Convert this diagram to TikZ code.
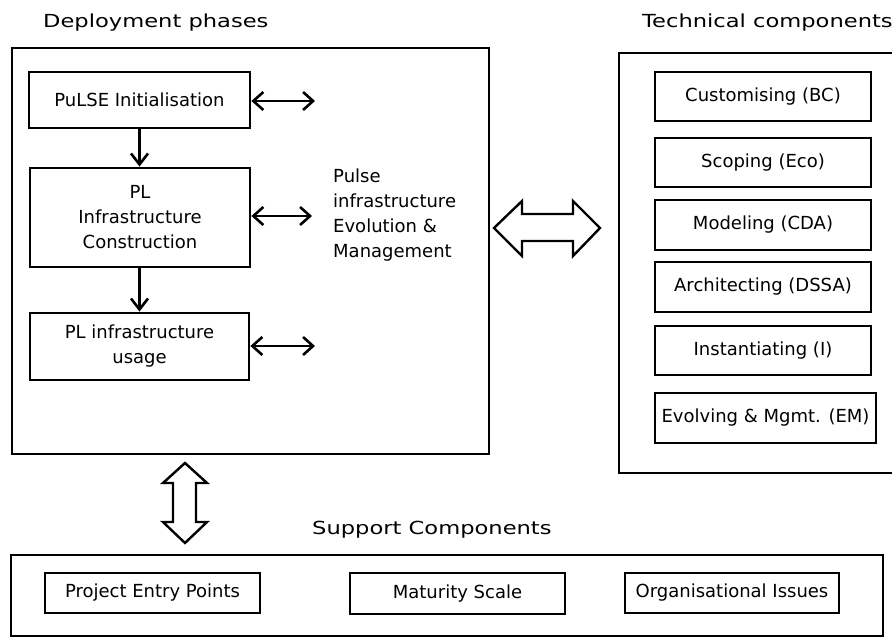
\documentclass[tikz,border=0pt]{standalone}
\usepackage{fontspec}
\setmainfont{DejaVu Sans}
\usetikzlibrary{arrows.meta}
\begin{document}
\begin{tikzpicture}[x=1pt,y=-1pt,
  box/.style={draw, line width=2.8pt, rectangle, inner sep=0pt, align=center,
    font=\fontsize{18pt}{25pt}\selectfont},
  frame/.style={draw, line width=2.8pt, rectangle, inner sep=0pt},
  title/.style={anchor=base west, inner sep=0pt, font=\fontsize{18pt}{25pt}\selectfont},
  link/.style={line width=2.6pt, {Straight Barb[length=10pt,width=18pt]}-{Straight Barb[length=10pt,width=18pt]}},
  flow/.style={line width=2.6pt, -{Straight Barb[length=11pt,width=17pt]}},
  bigarrow/.style={draw, line width=2.4pt, fill=white, line join=miter}
]
\useasboundingbox (0,0) rectangle (892,637);

% titles
\node[title] (tdep) at (43,27.5) {\scalebox{1.255}[1]{Deployment phases}};
\node[title] (ttech) at (642,27.5) {\scalebox{1.255}[1]{Technical components}};
\node[title] (tsup) at (312,534) {\scalebox{1.255}[1]{Support Components}};

% deployment frame
\node[frame, minimum width=477pt, minimum height=406pt] (dep) at (250.5,251) {};
\node[box, minimum width=221pt, minimum height=56pt] (init) at (139.5,100) {PuLSE Initialisation};
\node[box, minimum width=220pt, minimum height=99pt] (cons) at (140,217.5) {PL\\Infrastructure\\Construction};
\node[box, minimum width=219pt, minimum height=67pt] (usage) at (139.5,346.5) {PL infrastructure\\usage};

\draw[flow] (init.south) -- (init.south |- cons.north);
\draw[flow] (init.south |- cons.south) -- (init.south |- usage.north);

\coordinate (e1) at (315,101);
\coordinate (e2) at (312,216);
\coordinate (e3) at (315,346);
\draw[link] (init.east |- e1) -- (e1);
\draw[link] (cons.east |- e2) -- (e2);
\draw[link] (usage.east |- e3) -- (e3);

\node[anchor=west, inner sep=0pt, align=left, font=\fontsize{18pt}{25pt}\selectfont] (pulse) at (333,215.5)
  {Pulse\\infrastructure\\Evolution \&\\Management};

% technical frame (open to the right edge)
\draw[line width=2.8pt] (895,53) -- (619,53) -- (619,473) -- (895,473);
\coordinate (tech) at (619,263);

\node[box, minimum width=216pt, minimum height=49pt] (bc)  at (763,96.5)  {Customising (BC)};
\node[box, minimum width=216pt, minimum height=49pt] (eco) at (763,162.5) {Scoping (Eco)};
\node[box, minimum width=216pt, minimum height=50pt] (cda) at (763,225)   {Modeling (CDA)};
\node[box, minimum width=216pt, minimum height=50pt] (dssa) at (763,287)  {Architecting (DSSA)};
\node[box, minimum width=216pt, minimum height=49pt] (inst) at (763,350.5) {Instantiating (I)};
\node[box, minimum width=221pt, minimum height=50pt] (em)  at (765.5,418) {Evolving \& Mgmt. (EM)};

% big horizontal double arrow
\draw[bigarrow] (494,228) -- (522,201) -- (522,214) -- (573,214) -- (573,201) -- (600,228)
  -- (573,256) -- (573,241) -- (522,241) -- (522,256) -- cycle;

% big vertical double arrow
\draw[bigarrow] (185,463) -- (207,483) -- (196,483) -- (196,522) -- (207,522) -- (185,543)
  -- (163,522) -- (173,522) -- (173,483) -- (163,483) -- cycle;

% support frame
\node[frame, minimum width=872pt, minimum height=81pt] (sup) at (447,595.5) {};
\node[box, minimum width=215pt, minimum height=40pt] (pep) at (152.5,593) {Project Entry Points};
\node[box, minimum width=215pt, minimum height=41pt] (mat) at (457.5,593.5) {Maturity Scale};
\node[box, minimum width=214pt, minimum height=40pt] (org) at (732,593) {Organisational Issues};
\end{tikzpicture}
\end{document}
